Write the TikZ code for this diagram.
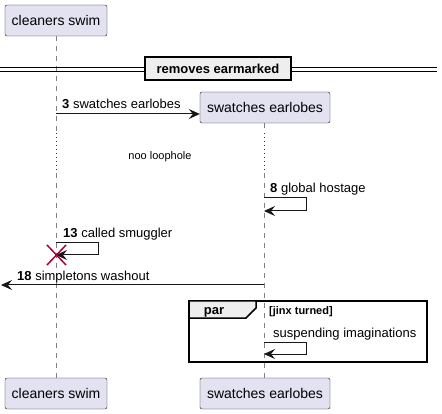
\documentclass[tikz,border=0pt]{standalone}
\usepackage{fontspec}
\setmainfont{Liberation Sans}
\usetikzlibrary{arrows.meta}
\definecolor{partfill}{HTML}{E2E2F0}
\definecolor{partline}{HTML}{181818}
\definecolor{crimson}{HTML}{A80036}
\definecolor{grpfill}{HTML}{EEEEEE}
\tikzstyle{part} = [draw=partline, fill=partfill, rounded corners=2pt, minimum height=31pt, inner sep=0pt, font={\fontsize{14}{16}\selectfont}]
\tikzstyle{life} = [draw=gray, dash pattern=on 5pt off 5pt]
\tikzstyle{delayline} = [draw=crimson, dash pattern=on 1pt off 3pt]
\tikzstyle{msg} = [draw=partline, line width=1pt, -{Stealth[length=11pt,width=10pt,inset=4pt]}]
\tikzstyle{selfmsg} = [msg, rounded corners=0pt]
\tikzstyle{lbl} = [anchor=base west, inner sep=0pt, font={\fontsize{13}{15}\selectfont}]
\tikzstyle{grp} = [draw=black, line width=1.5pt]

\begin{document}
\begin{tikzpicture}[x=1pt,y=-1pt]
  \useasboundingbox (0,0) rectangle (442,414);
  % participants
  \node[part,minimum width=102pt](cs) at (56,20.5){cleaners swim};
  \node[part,minimum width=130pt](se) at (265,107.5){swatches earlobes};
  \node[part,minimum width=102pt](csb) at (56,393.5){cleaners swim};
  \node[part,minimum width=130pt](seb) at (265,393.5){swatches earlobes};
  % lifelines
  \coordinate (c1) at (56,133);
  \coordinate (c2) at (56,173);
  \coordinate (s1) at (264,133);
  \coordinate (s2) at (264,173);
  \draw[life] (cs.south) -- (c1);
  \draw[delayline] (c1) -- (c2);
  \draw[life] (c2) -- (csb.north);
  \draw[life] (se.south -| s1) -- (s1);
  \draw[delayline] (s1) -- (s2);
  \draw[life] (s2) -- (seb.north -| s2);
  % divider
  \draw[line width=1pt] (0,68) -- (437,68) (0,72) -- (437,72);
  \node[draw=black, line width=1.5pt, fill=grpfill, minimum width=146pt, minimum height=23pt, inner sep=0pt, font={\fontsize{13}{15}\selectfont\bfseries}](div) at (218,68.5){removes earmarked};
  % delay
  \node[inner sep=0pt, anchor=base, font={\fontsize{11}{13}\selectfont}](dl) at (160,160){noo loophole};
  % messages
  \coordinate (m3) at (56,114);
  \draw[msg] (m3) -- (m3 -| se.west);
  \node[lbl](l3) at (62,109){\textbf{3} swatches earlobes};
  \coordinate (m8a) at (264,198);
  \coordinate (m8b) at (264,211);
  \draw[selfmsg] (m8a) -- ++(42,0) |- (m8b);
  \node[lbl](l8) at (270,193){\textbf{8} global hostage};
  \coordinate (m13a) at (56,243);
  \coordinate (m13b) at (56,255);
  \draw[selfmsg] (m13a) -- ++(42,0) |- (m13b);
  \node[lbl](l13) at (63,238){\textbf{13} called smuggler};
  \draw[crimson, line width=1.5pt] (47,245) -- (66,265) (47,265) -- (66,245);
  \coordinate (m18a) at (264,285);
  \coordinate (m18b) at (1,285);
  \draw[msg] (m18a) -- (m18b);
  \node[lbl](l18) at (17,280){\textbf{18} simpletons washout};
  % par fragment
  \draw[grp] (189,301) rectangle (427,362);
  \filldraw[grp, fill=grpfill] (189,301) -- (256,301) -- (256,308) -- (246,318) -- (189,318) -- cycle;
  \node[inner sep=0pt, anchor=base, font={\fontsize{13}{15}\selectfont\bfseries}](par) at (214,315){par};
  \node[inner sep=0pt, anchor=base west, font={\fontsize{11}{13}\selectfont\bfseries}](guard) at (269,314){[jinx turned]};
  \coordinate (m20a) at (264,342);
  \coordinate (m20b) at (264,354);
  \draw[selfmsg] (m20a) -- ++(42,0) |- (m20b);
  \node[lbl](l20) at (273,337){suspending imaginations};
\end{tikzpicture}
\end{document}
